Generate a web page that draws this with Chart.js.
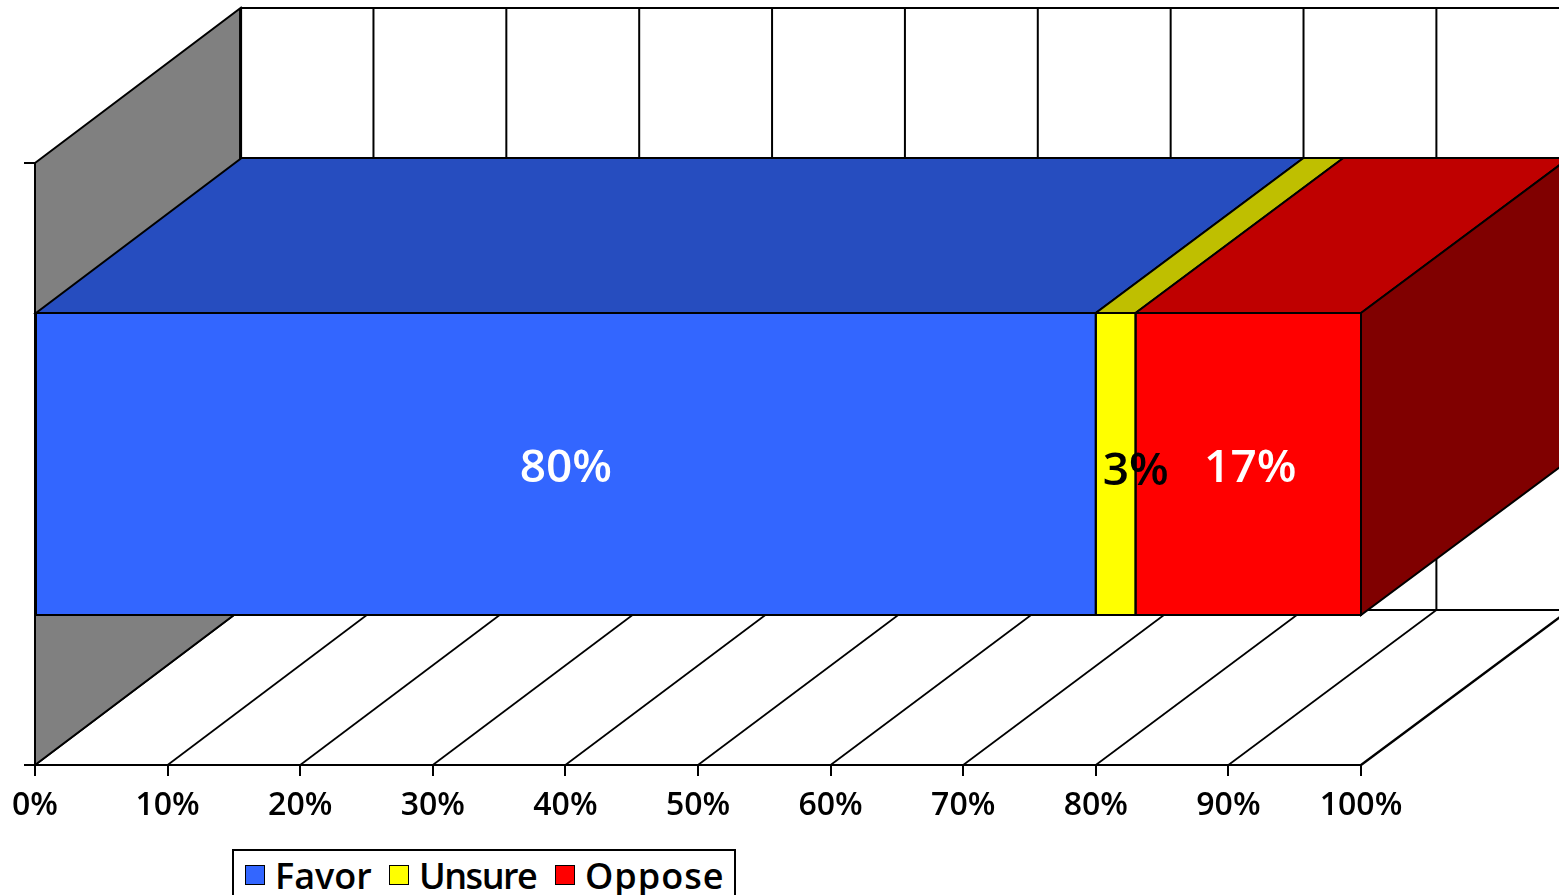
<!DOCTYPE html>
<html>
<head>
<meta charset="utf-8">
<title>Favor / Unsure / Oppose</title>
<script src="https://cdn.jsdelivr.net/npm/chart.js@4"></script>
<style>
    html, body { margin: 0; padding: 0; background: #fff; overflow: hidden; }
    #wrap { position: relative; width: 1559px; height: 895px; overflow: hidden; }
    #legend {
        position: absolute; left: 232px; top: 849px; width: 500px; height: 60px;
        border: 2px solid #000; background: #fff;
        font: 550 36px "Open Sans", sans-serif; color: #000;
    }
    #legend i {
        position: absolute; top: 14px; width: 20px; height: 20px;
        border: 1px solid #000; box-sizing: border-box;
    }
    #legend span { position: absolute; top: 0; line-height: 50px; white-space: nowrap; }
</style>
</head>
<body>
<div id="wrap">
    <canvas id="chart" width="1559" height="895"></canvas>
    <div id="legend"></div>
</div>
<script>
const categories = [""];
const seriesNames = ["Favor", "Unsure", "Oppose"];
const favor = [80];
const unsure = [3];
const oppose = [17];
const xTicks = [0, 10, 20, 30, 40, 50, 60, 70, 80, 90, 100];

const frontColors = ["#3366FF", "#FFFF00", "#FF0000"];
const topColors = ["#264DBF", "#BFBF00", "#BF0000"];
const sideColor = "#800000";
const wallColor = "#808080";
const labelColors = ["#fff", "#000", "#fff"];
const labelNudge = [[0, 0], [20, 3], [2, 0]];

// how far the back of the box sits from the front
const depthX = 205.6;
const depthY = -155;
const backStretch = 1.002; // back wall is a touch wider than the front

function poly(ctx, pts, fill, width) {
    ctx.beginPath();
    pts.forEach((p, i) => i ? ctx.lineTo(p[0], p[1]) : ctx.moveTo(p[0], p[1]));
    ctx.closePath();
    if (fill) {
        ctx.fillStyle = fill;
        ctx.fill();
    }
    ctx.lineWidth = width || 2;
    ctx.strokeStyle = "#000";
    ctx.stroke();
}

function line(ctx, x1, y1, x2, y2, width) {
    ctx.beginPath();
    ctx.moveTo(x1, y1);
    ctx.lineTo(x2, y2);
    ctx.lineWidth = width || 2;
    ctx.strokeStyle = "#000";
    ctx.stroke();
}

function backX(chart, px) {
    const left = chart.chartArea.left;
    return left + depthX + (px - left) * backStretch;
}

const box3d = {
    id: "box3d",
    // walls and floor, behind everything
    beforeDraw(chart) {
        const { ctx, chartArea: a, scales: { x } } = chart;
        ctx.save();
        const backTop = a.top + depthY;
        const backBottom = a.bottom + depthY;
        const wallX = backX(chart, a.left);
        const wallEnd = backX(chart, a.right);

        xTicks.forEach(t => {
            const px = x.getPixelForValue(t);
            line(ctx, backX(chart, px), backTop, backX(chart, px), backBottom);
            line(ctx, px, a.bottom, backX(chart, px), backBottom, t === 100 ? 2.4 : 1.7);
        });
        line(ctx, wallX, backTop, wallEnd, backTop, 2);
        line(ctx, wallX, backBottom, wallEnd, backBottom, 2);

        poly(ctx, [
            [a.left, a.top],
            [wallX, backTop],
            [wallX, backBottom],
            [a.left, a.bottom]
        ], wallColor, 2);
        line(ctx, wallX, backTop, wallX, backBottom, 3);
        ctx.restore();
    },
    // top and side faces of the stacked bar
    beforeDatasetsDraw(chart) {
        const ctx = chart.ctx;
        ctx.save();
        chart.data.datasets.forEach((ds, i) => {
            const bar = chart.getDatasetMeta(i).data[0];
            const top = bar.y - bar.height / 2;
            const bottom = bar.y + bar.height / 2;
            poly(ctx, [
                [bar.base, top],
                [bar.x, top],
                [backX(chart, bar.x), top + depthY],
                [backX(chart, bar.base), top + depthY]
            ], topColors[i]);
            if (i === chart.data.datasets.length - 1) {
                poly(ctx, [
                    [bar.x, top],
                    [backX(chart, bar.x), top + depthY],
                    [backX(chart, bar.x), bottom + depthY],
                    [bar.x, bottom]
                ], sideColor);
            }
        });
        ctx.restore();
    },
    // outlines and the value labels go over the bars
    afterDatasetsDraw(chart) {
        const ctx = chart.ctx;
        ctx.save();
        chart.data.datasets.forEach((ds, i) => {
            const bar = chart.getDatasetMeta(i).data[0];
            const top = bar.y - bar.height / 2;
            const bottom = bar.y + bar.height / 2;
            poly(ctx, [[bar.base, top], [bar.x, top], [bar.x, bottom], [bar.base, bottom]]);
        });
        ctx.font = '550 46px "Open Sans", sans-serif';
        ctx.textAlign = "center";
        ctx.textBaseline = "middle";
        chart.data.datasets.forEach((ds, i) => {
            const bar = chart.getDatasetMeta(i).data[0];
            ctx.fillStyle = labelColors[i];
            ctx.fillText(ds.data[0] + "%",
                (bar.x + bar.base) / 2 + labelNudge[i][0],
                bar.y + 5 + labelNudge[i][1]);
        });
        ctx.restore();
    }
};

const seriesData = [favor, unsure, oppose];

new Chart(document.getElementById("chart"), {
    type: "bar",
    plugins: [box3d],
    data: {
        labels: categories,
        datasets: seriesNames.map((name, i) => ({
            label: name,
            data: seriesData[i],
            backgroundColor: frontColors[i],
            borderWidth: 0,
            barPercentage: 0.5017,
            categoryPercentage: 1
        }))
    },
    options: {
        indexAxis: "y",
        responsive: false,
        animation: false,
        layout: { padding: { top: 163, right: 198 } },
        plugins: { legend: { display: false }, tooltip: { enabled: false } },
        scales: {
            x: {
                stacked: true,
                min: 0,
                max: 100,
                afterFit: s => { s.height = 130; },
                afterBuildTicks: s => { s.ticks = xTicks.map(v => ({ value: v })); },
                border: { color: "#000", width: 2 },
                grid: { drawOnChartArea: false, color: "#000", lineWidth: 2, tickLength: 11 },
                ticks: {
                    color: "#000",
                    padding: 11,
                    maxRotation: 0,
                    font: { family: "'Open Sans', sans-serif", size: 32, weight: "650" },
                    callback: v => v + "%"
                }
            },
            y: {
                stacked: true,
                afterFit: s => { s.width = 35; },
                border: { color: "#000", width: 2 },
                grid: { drawOnChartArea: false, offset: true, color: "#000", lineWidth: 2, tickLength: 11 },
                ticks: { display: false }
            }
        }
    }
});

// legend box, same look as the old spreadsheet one
const legend = document.getElementById("legend");
const swatchLeft = [11, 155, 321];
const textLeft = [41, 185, 351];
const textSpacing = [0, -1.5, 1];
seriesNames.forEach((name, i) => {
    const box = document.createElement("i");
    box.style.left = swatchLeft[i] + "px";
    box.style.background = frontColors[i];
    const txt = document.createElement("span");
    txt.style.left = textLeft[i] + "px";
    txt.style.letterSpacing = textSpacing[i] + "px";
    txt.textContent = name;
    legend.append(box, txt);
});
</script>
</body>
</html>
